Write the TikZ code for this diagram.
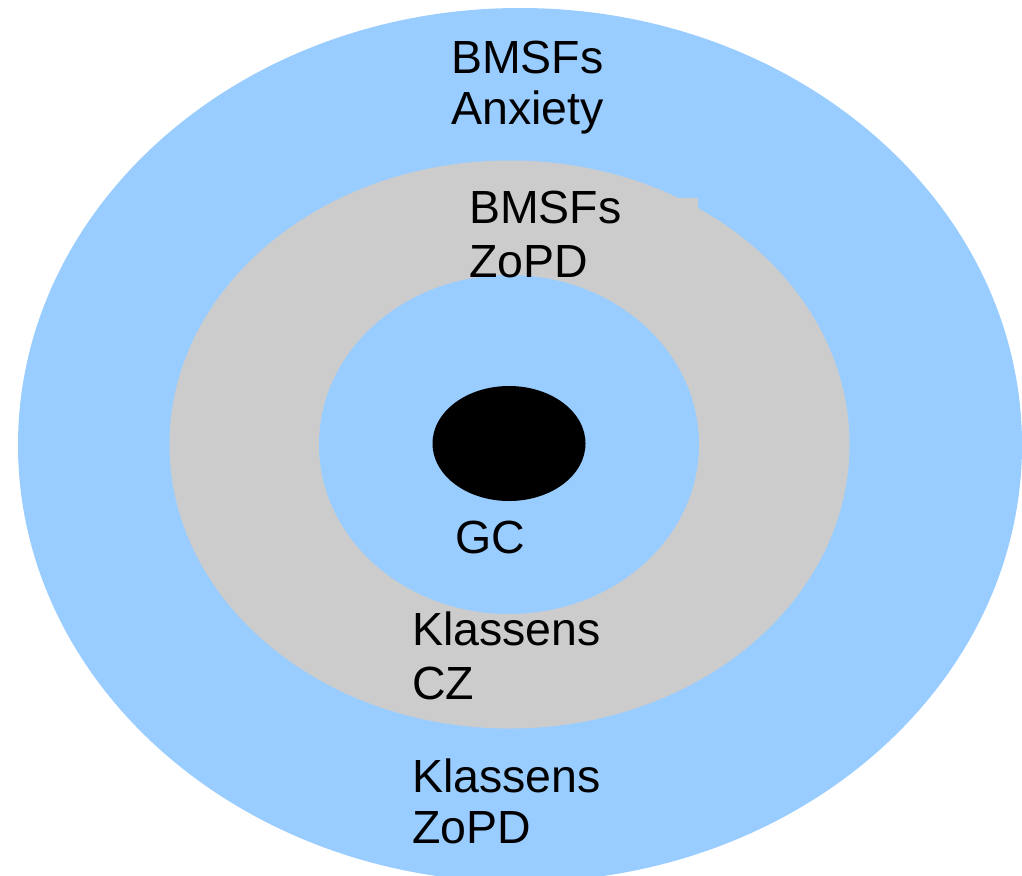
\documentclass[tikz,border=0pt]{standalone}
\usepackage{fontspec}
\setmainfont{Liberation Sans}
\usetikzlibrary{positioning}
\definecolor{ringblue}{HTML}{99CCFF}
\definecolor{ringgray}{HTML}{CCCCCC}
\tikzset{
	lbl/.style={anchor=base west, inner sep=0pt, align=left,
		font=\fontsize{46.5}{54}\selectfont},
	tightlbl/.style={lbl, font=\fontsize{46.5}{51}\selectfont}
}
\begin{document}
\begin{tikzpicture}[x=1pt,y=-1pt]
%----------------------------------------------------------------------------
% Frame
\useasboundingbox (0,0) rectangle (1022,875);
\clip (0,0) rectangle (1022,875);
%----------------------------------------------------------------------------
% Rings
\fill[ringblue] (520,445) ellipse [x radius=502pt, y radius=437pt];
\fill[ringgray] (509.5,444.5) ellipse [x radius=340pt, y radius=284pt];
\fill[ringgray] (678,198) rectangle (698,212);
\fill[ringblue] (509,444.5) ellipse [x radius=190pt, y radius=169.5pt];
\fill[black] (509,443.5) ellipse [x radius=76.5pt, y radius=57.5pt];
%----------------------------------------------------------------------------
% Labels (anchored at the baseline of the last line)
\node (outerTop) [tightlbl] at (451,124) {BMSFs\\Anxiety};
\node (middleTop) [lbl] at (469,277) {BMSFs\\ZoPD};
\node (core) [lbl] at (455,553.5) {GC};
\node (middleBottom) [lbl] at (412,699) {Klassens\\CZ};
\node (outerBottom) [tightlbl] at (412,843) {Klassens\\ZoPD};

\end{tikzpicture}
\end{document}
